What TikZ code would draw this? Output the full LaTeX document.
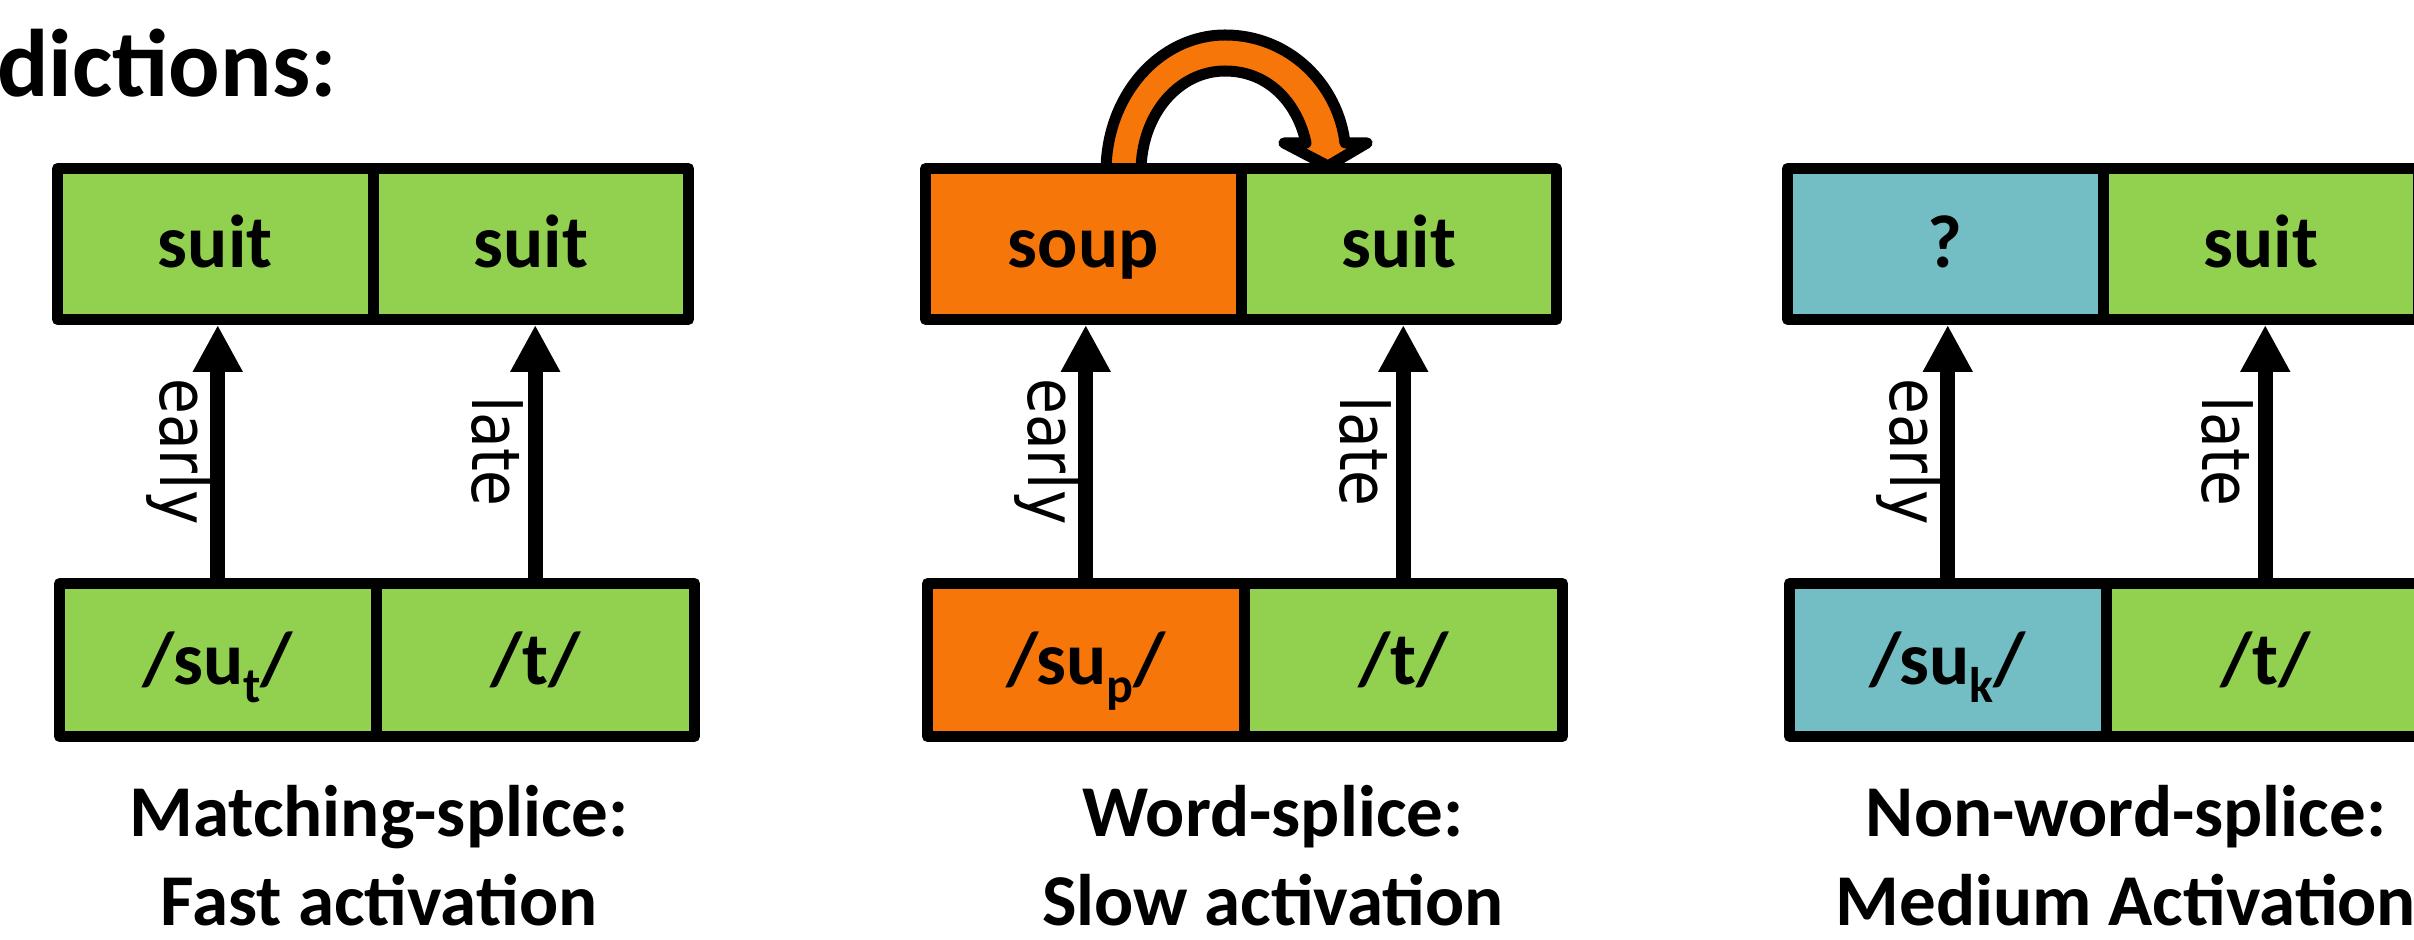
\documentclass[tikz,border=0pt]{standalone}
\usepackage{fontspec}
\setmainfont{Carlito}
\newfontfamily\lblfont{DejaVu Sans}[FakeStretch=0.87]
\usetikzlibrary{arrows.meta,calc}

\definecolor{cgreen}{RGB}{146,208,80}
\definecolor{corange}{RGB}{247,118,10}
\definecolor{cteal}{RGB}{114,190,196}

% lowered, smaller letter after /su
\newcommand{\lowsub}[1]{\raisebox{-0.25em}{\fontsize{25}{25}\selectfont #1}}

\tikzset{
  cell/.style={draw=black, line width=5.5pt, line join=round, inner sep=0pt,
    font=\fontsize{37.5}{40}\selectfont\bfseries, text height=24pt, text depth=0pt},
  topcell/.style={cell, minimum width=157.75pt, minimum height=75.5pt},
  botcell/.style={cell, minimum height=76.5pt},
  uparrow/.style={line width=7.5pt, -{Triangle[length=23.5pt, width=23.5pt]}},
  lbl/.style={rotate=-90, anchor=north, inner sep=0pt,
    font=\lblfont\fontsize{33.5}{36}\selectfont},
  caption/.style={anchor=base, inner sep=0pt,
    font=\fontsize{36.5}{44}\selectfont\bfseries},
  blockarrow/.style={draw=black, fill=corange, line width=5.5pt, line join=round},
}

\begin{document}
\begin{tikzpicture}[x=0.5pt, y=-0.5pt]
\useasboundingbox (0,0) rectangle (2414,940);

\node[anchor=base west, inner sep=0pt, font=\fontsize{48}{50}\selectfont\bfseries]
  (title) at (-3,97) {dictions:};

% ---------- matching splice ----------
\node[topcell, fill=cgreen] (a1) at (215.25,244) {suit};
\node[topcell, fill=cgreen] (a2) at (530.75,244) {suit};
\node[botcell, fill=cgreen, minimum width=158.25pt] (a3) at (217.75,660) {/su\lowsub{t}/};
\node[botcell, fill=cgreen, minimum width=159.25pt] (a4) at (535.25,660) {/t/};
\coordinate (a1e) at (a3.north |- a1.south);
\coordinate (a2e) at (a4.north |- a2.south);
\draw[uparrow] (a3.north) -- (a1e);
\draw[uparrow] (a4.north) -- (a2e);
\node[lbl] (a5) at ($(a3.north)!0.5!(a1e)+(-6,0)$) {early};
\node[lbl] (a6) at ($(a4.north)!0.5!(a2e)+(-11,0)$) {late};
\node[caption] (a7) at (379,836) {Matching-splice:};
\node[caption] (a8) at (379,925) {Fast activation};

% ---------- word splice ----------
% curved block arrow from soup over to suit
\draw[blockarrow]
  (1106,172) .. controls (1106,95) and (1160,35) .. (1225,35)
  .. controls (1290,35) and (1338,85) .. (1345,143)
  -- (1367,143) -- (1328,166) -- (1284,143) -- (1306,143)
  .. controls (1298,105) and (1270,71) .. (1225,71)
  .. controls (1179,71) and (1141,114) .. (1141,172) -- cycle;

\begin{scope}[shift={(868,0)}]
\node[topcell, fill=corange] (b1) at (215.25,244) {soup};
\node[topcell, fill=cgreen] (b2) at (530.75,244) {suit};
\node[botcell, fill=corange, minimum width=158.25pt] (b3) at (217.75,660) {/su\lowsub{p}/};
\node[botcell, fill=cgreen, minimum width=159.25pt] (b4) at (535.25,660) {/t/};
\coordinate (b1e) at (b3.north |- b1.south);
\coordinate (b2e) at (b4.north |- b2.south);
\draw[uparrow] (b3.north) -- (b1e);
\draw[uparrow] (b4.north) -- (b2e);
\node[lbl] (b5) at ($(b3.north)!0.5!(b1e)+(-6,0)$) {early};
\node[lbl] (b6) at ($(b4.north)!0.5!(b2e)+(-11,0)$) {late};
\node[caption] (b7) at (405,836) {Word-splice:};
\node[caption] (b8) at (405,925) {Slow activation};
\end{scope}

% ---------- non-word splice ----------
\begin{scope}[shift={(1730,0)}]
\node[topcell, fill=cteal] (c1) at (215.25,244) {?};
\node[topcell, fill=cgreen] (c2) at (530.75,244) {suit};
\node[botcell, fill=cteal, minimum width=158.25pt] (c3) at (217.75,660) {/su\lowsub{k}/};
\node[botcell, fill=cgreen, minimum width=159.25pt] (c4) at (535.25,660) {/t/};
\coordinate (c1e) at (c3.north |- c1.south);
\coordinate (c2e) at (c4.north |- c2.south);
\draw[uparrow] (c3.north) -- (c1e);
\draw[uparrow] (c4.north) -- (c2e);
\node[lbl] (c5) at ($(c3.north)!0.5!(c1e)+(-6,0)$) {early};
\node[lbl] (c6) at ($(c4.north)!0.5!(c2e)+(-11,0)$) {late};
\node[caption] (c7) at (396,836) {Non-word-splice:};
\node[caption] (c8) at (396,925) {Medium Activation};
\end{scope}
\end{tikzpicture}
\end{document}
